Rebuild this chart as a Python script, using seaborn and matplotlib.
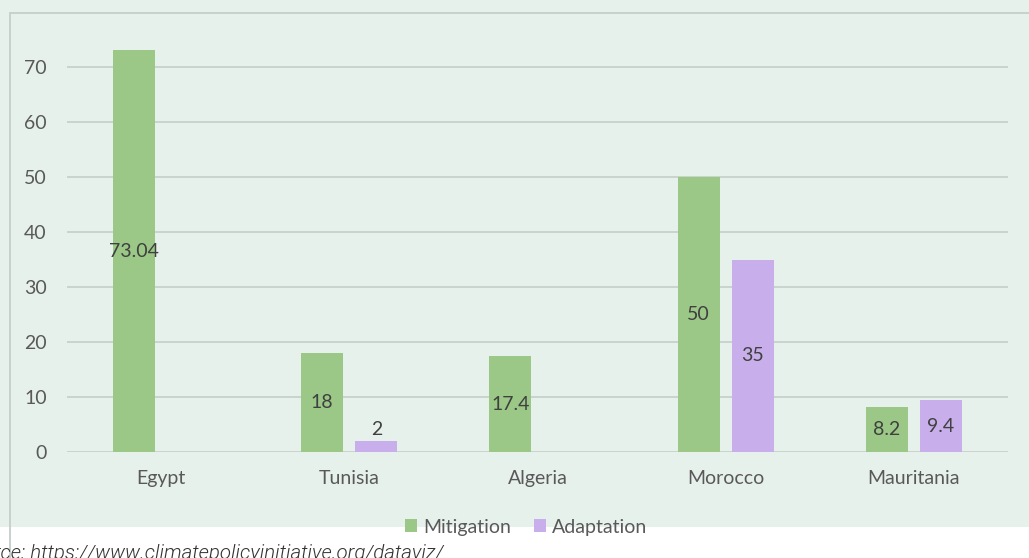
import matplotlib
matplotlib.use("Agg")
import matplotlib.pyplot as plt
from matplotlib.lines import Line2D
from matplotlib.patches import Rectangle, Patch
import seaborn as sns
import pandas as pd
import numpy as np

# Climate finance by country (USD)
countries = ["Egypt", "Tunisia", "Algeria", "Morocco", "Mauritania"]
mitigation = [73.04, 18, 17.4, 50, 8.2]
adaptation = [np.nan, 2, np.nan, 35, 9.4]
series_names = ["Mitigation", "Adaptation"]
y_ticks = [0, 10, 20, 30, 40, 50, 60, 70]
source_text = "Source: https://www.climatepolicyinitiative.org/dataviz/"

colors = {"Mitigation": "#9BC886", "Adaptation": "#C8AEEB"}
bg = "#E7F1EB"
grid_c = "#CBD3CD"

rows = []
for c, m, a in zip(countries, mitigation, adaptation):
    rows.append({"country": c, "type": "Mitigation", "value": m})
    rows.append({"country": c, "type": "Adaptation", "value": a})
df = pd.DataFrame(rows).dropna()

sns.set_theme(style="white")
plt.rcParams["font.family"] = ["Lato", "DejaVu Sans"]

W, H = 1029, 558
fig = plt.figure(figsize=(W / 100, H / 100), dpi=100)
fig.patch.set_facecolor("white")

# chart area panel
fig.patches.append(Rectangle((0, (H - 527) / H), 1, 527 / H, transform=fig.transFigure,
                             facecolor=bg, edgecolor="none", zorder=-10))
fig.add_artist(Line2D([10 / W, 10 / W], [0, (H - 13) / H], color="#C5CEC8", lw=1.3))
fig.add_artist(Line2D([10 / W, 1], [(H - 13) / H, (H - 13) / H], color="#C5CEC8", lw=1.3))

ax = fig.add_axes([67 / W, (H - 452) / H, 941 / W, 78 * 5.5 / H])
ax.set_facecolor("none")

sns.barplot(data=df, x="country", y="value", hue="type", order=countries,
            hue_order=series_names, palette=colors, width=0.576, gap=0.226,
            saturation=1, legend=False, ax=ax, errorbar=None, zorder=3,
            linewidth=0, edgecolor="none")

ax.set_xlim(-0.5, 4.5)
ax.set_ylim(0, 78)
ax.set_yticks(y_ticks)
ax.set_yticklabels([str(t) for t in y_ticks])
ax.yaxis.grid(True, color=grid_c, lw=1.4, zorder=0)
ax.set_axisbelow(True)
for s in ax.spines.values():
    s.set_visible(False)
ax.set_xlabel("")
ax.set_ylabel("")
ax.tick_params(axis="y", length=0, pad=14.5, labelsize=14, labelcolor="#595959")
ax.tick_params(axis="x", length=0, pad=13, labelsize=14, labelcolor="#595959")

# value labels: centred in bar, or above it when the bar is too short
for cont in ax.containers:
    for bar, v in zip(cont.patches, cont.datavalues):
        if np.isnan(v):
            continue
        x = bar.get_x() + bar.get_width() / 2
        txt = f"{v:g}"
        if v < 5:
            ax.text(x, v + 0.6, txt, ha="center", va="bottom", fontsize=14, color="#404040")
        else:
            ax.text(x, v / 2, txt, ha="center", va="center", fontsize=14, color="#404040")

handles = [Patch(facecolor=colors[n], edgecolor="none", label=n) for n in series_names]
fig.legend(handles=handles, loc="center", bbox_to_anchor=(526 / W, (H - 527) / H), ncol=2,
           frameon=False, fontsize=14, handlelength=0.6, handleheight=0.6,
           handletextpad=0.3, columnspacing=1.2, labelcolor="#595959", borderaxespad=0)

fig.text(443 / W, -1 / H, source_text, ha="right", va="baseline", fontsize=14.8,
         style="italic", color="#333333", family=["Roboto", "DejaVu Sans"], fontweight=300)

fig.savefig("out.png", dpi=100, facecolor=fig.get_facecolor())
